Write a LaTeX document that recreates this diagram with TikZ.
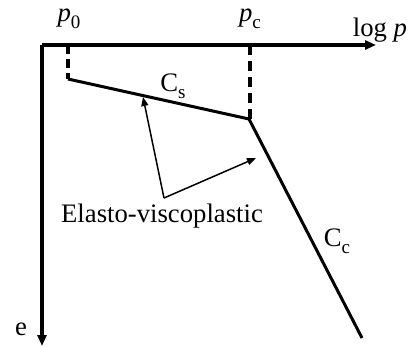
\documentclass[tikz,border=0pt]{standalone}
\usepackage{fontspec}
\setmainfont{Liberation Serif}
\usetikzlibrary{arrows.meta}
\newcommand{\sublab}[2]{\textit{#1}\raisebox{-0.25em}{\fontsize{19}{19}\selectfont #2}}

\begin{document}
\begin{tikzpicture}[x=1pt, y=-1pt, font=\fontsize{26.7}{30}\selectfont]
  \useasboundingbox (0,0) rectangle (411,346);
  % axes
  \coordinate (O) at (42,45);
  \coordinate (xend) at (376,45);
  \coordinate (yend) at (42,346);
  \draw[-{Triangle[length=11pt,width=9pt]}, line width=3.2pt] (O) -- (xend);
  \draw[-{Triangle[length=11pt,width=9pt]}, line width=3.2pt] (O) -- (yend);
  \node (logp) at (380,30) {log \textit{p}};
  \node (e) at (21,329) {e};
  % pressures
  \coordinate (p0top) at (68,45);
  \coordinate (A) at (68,79);
  \coordinate (pctop) at (250,45);
  \coordinate (B) at (249,119);
  \coordinate (C) at (362,338);
  \node (p0) at (69,19) {\sublab{p}{0}};
  \node (pc) at (250,19) {\sublab{p}{c}};
  \draw[dash pattern=on 9pt off 5pt, line width=3.2pt] (p0top) -- (A);
  \draw[dash pattern=on 10pt off 6pt, line width=3.2pt] (pctop) -- (250,121);
  % curves
  \draw[line width=3pt, line join=miter] (A) -- (B) -- (C);
  \node (Cs) at (173,86) {C\raisebox{-0.25em}{\fontsize{19}{19}\selectfont s}};
  \node (Cc) at (337,241) {C\raisebox{-0.25em}{\fontsize{19}{19}\selectfont c}};
  % elasto-viscoplastic arrows
  \coordinate (V) at (164,198);
  \coordinate (T1) at (143,97);
  \coordinate (T2) at (256,158);
  \draw[-{Triangle[length=9pt,width=7pt]}, line width=1.5pt] (V) -- (T1);
  \draw[-{Triangle[length=9pt,width=7pt]}, line width=1.5pt] (V) -- (T2);
  \node (ev) at (162,216) {Elasto-viscoplastic};
\end{tikzpicture}
\end{document}
